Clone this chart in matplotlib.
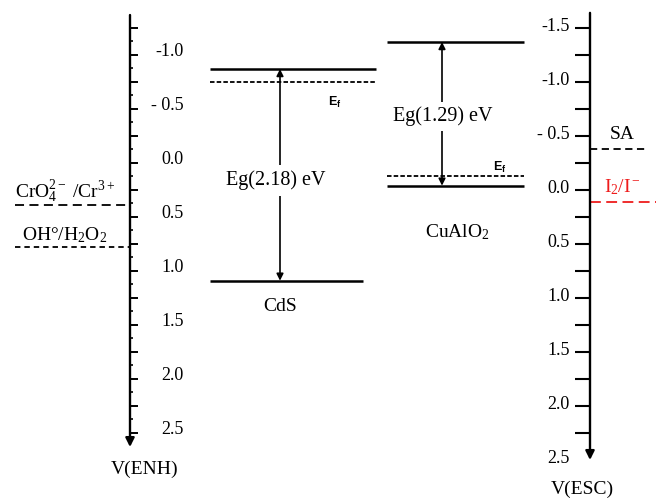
import numpy as np
import matplotlib.pyplot as plt

plt.rcParams['font.family'] = 'Liberation Serif'
plt.rcParams['mathtext.fontset'] = 'custom'
plt.rcParams['mathtext.rm'] = 'Liberation Serif'
plt.rcParams['mathtext.it'] = 'Liberation Serif:italic'
plt.rcParams['mathtext.bf'] = 'Liberation Sans:bold'

# All potentials in V vs ENH; the ESC scale is shifted by 0.25 V
ESC_SHIFT = 0.25

# band edges: conduction band, Fermi level, valence band
cds_levels = [-0.87, -0.75, 1.09]
cualo2_levels = [-1.12, 0.12, 0.21]
gap_labels = ['Eg(2.18) eV', 'Eg(1.29) eV']
material_labels = ['CdS', r'CuAlO$_2$']

# redox couples read on the ENH scale (left) and ESC scale (right)
couples_enh = [0.39, 0.78]
couple_labels_enh = [r'CrO$_4^{2-}$ /Cr$^{3+}$', r'OH°/H$_2$O$_2$']
couples_esc = [-0.38, 0.11]
couple_labels_esc = ['SA', r'I$_2$/I$^-$']

enh_label_vals = [-1.0, -0.5, 0.0, 0.5, 1.0, 1.5, 2.0, 2.5]
enh_labels = ['-1.0', '- 0.5', '0.0', '0.5', '1.0', '1.5', '2.0', '2.5']
esc_label_vals = [-1.5, -1.0, -0.5, 0.0, 0.5, 1.0, 1.5, 2.0, 2.5]
esc_labels = ['-1.5', '-1.0', '- 0.5', '0.0', '0.5', '1.0', '1.5', '2.0', '2.5']

RED = '#ee1c1c'

fig = plt.figure(figsize=(6.56, 4.98), dpi=100)
ax = fig.add_axes([0, 0, 1, 1])
ax.set_xlim(0, 656)
ax.set_ylim(3.102, -1.509)
ax.axis('off')

arrow_kw = dict(arrowstyle='-|>', lw=1.7, color='black', mutation_scale=13,
                shrinkA=0, shrinkB=0)

# left scale, V(ENH)
xl = 130
ax.annotate('', xy=(xl, 2.63), xytext=(xl, -1.37), arrowprops=arrow_kw)
major = np.arange(-1.25, 2.51, 0.25)
ax.hlines(major, xl, xl + 8, color='black', lw=1.4)
ax.hlines(major[:-1] + 0.125, xl, xl + 3, color='black', lw=1.2)
for v, lab in zip(enh_label_vals, enh_labels):
    ax.text(184, v - 0.03, lab, ha='right', va='center', fontsize=13)
ax.text(145, 2.84, 'V(ENH)', ha='center', va='center', fontsize=14)

# right scale, V(ESC)
xr = 590
ax.annotate('', xy=(xr, 2.5 + ESC_SHIFT), xytext=(xr, -1.39), arrowprops=arrow_kw)
esc_major = np.arange(-1.5, 2.26, 0.25)
ax.hlines(esc_major + ESC_SHIFT, xr - 15, xr, color='black', lw=1.5)
for v, lab in zip(esc_label_vals, esc_labels):
    ax.text(570, v + ESC_SHIFT - 0.01, lab, ha='right', va='center', fontsize=13)
ax.text(582, 3.02, 'V(ESC)', ha='center', va='center', fontsize=14)

# CdS bands
cb, ef, vb = cds_levels
ax.hlines(cb, 210, 376, color='black', lw=1.8)
ax.hlines(ef, 210, 376, color='black', lw=1.3, linestyles=(0, (2.5, 1.2)))
ax.hlines(vb, 210, 363, color='black', lw=1.8)
ax.annotate('', xy=(280, cb), xytext=(280, vb),
            arrowprops=dict(arrowstyle='<|-|>', lw=1.2, color='black',
                            mutation_scale=10, shrinkA=0, shrinkB=0))
ax.text(276, 0.16, gap_labels[0], ha='center', va='center', fontsize=14.5,
        bbox=dict(facecolor='white', edgecolor='none', pad=4))
ax.text(335, -0.565, r'$\mathbf{E_f}$', ha='center', va='center', fontsize=9)
ax.text(280, 1.33, material_labels[0], ha='center', va='center', fontsize=14)

# CuAlO2 bands
cb, ef, vb = cualo2_levels
ax.hlines(cb, 387, 524, color='black', lw=1.8)
ax.hlines(ef, 387, 524, color='black', lw=1.3, linestyles=(0, (2.5, 1.2)))
ax.hlines(vb, 387, 524, color='black', lw=1.8)
ax.annotate('', xy=(442, cb), xytext=(442, vb),
            arrowprops=dict(arrowstyle='<|-|>', lw=1.2, color='black',
                            mutation_scale=10, shrinkA=0, shrinkB=0))
ax.text(443, -0.43, gap_labels[1], ha='center', va='center', fontsize=14.5,
        bbox=dict(facecolor='white', edgecolor='none', pad=3))
ax.text(500, 0.04, r'$\mathbf{E_f}$', ha='center', va='center', fontsize=9)
ax.text(457, 0.64, material_labels[1], ha='center', va='center', fontsize=14)

# redox couples on the ENH side
ax.hlines(couples_enh[0], 15, 127, color='black', lw=1.3, linestyles=(0, (5, 3)))
ax.text(15, 0.325, couple_labels_enh[0], ha='left', va='baseline', fontsize=14)
ax.hlines(couples_enh[1], 15, 131, color='black', lw=1.3, linestyles=(0, (3, 2.2)))
ax.text(22, 0.715, couple_labels_enh[1], ha='left', va='baseline', fontsize=14)

# redox couples on the ESC side
ax.hlines(couples_esc[0] + ESC_SHIFT, xr, 647, color='black', lw=1.3,
          linestyles=(0, (4, 2.5)))
ax.text(622, -0.26, couple_labels_esc[0], ha='center', va='center', fontsize=14)
ax.hlines(couples_esc[1] + ESC_SHIFT, xr, 656, color=RED, lw=1.3,
          linestyles=(0, (6, 3)))
ax.text(622, 0.22, couple_labels_esc[1], ha='center', va='center', fontsize=14,
        color=RED)

fig.savefig('out.png', dpi=100)
